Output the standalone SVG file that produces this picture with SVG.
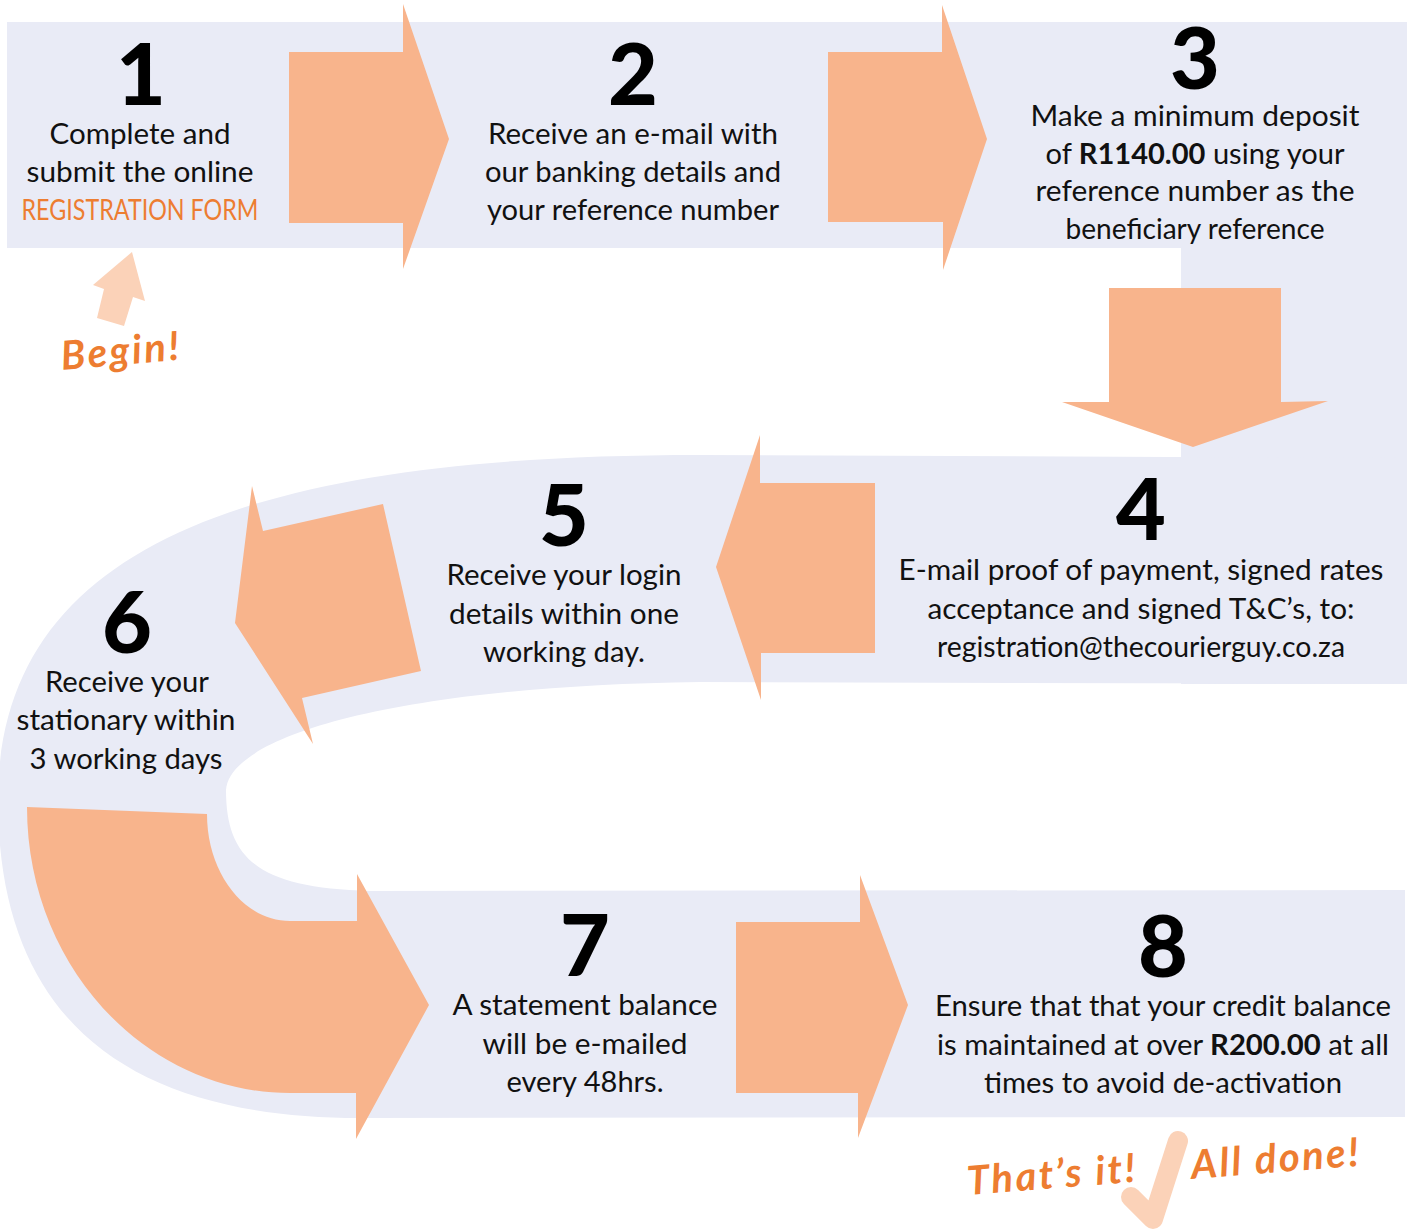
<svg xmlns="http://www.w3.org/2000/svg" width="1412" height="1229" viewBox="0 0 1412 1229">
  <defs>
    <style>
      .band { fill: #E9EBF6; }
      .arrow { fill: #F8B48C; }
      .light { fill: #FBD2B8; }
      .num { font-family: Lato, "Open Sans", "DejaVu Sans", sans-serif; font-weight: 900; font-size: 86px; fill: #000; text-anchor: middle; }
      .txt { font-family: Lato, "Open Sans", "DejaVu Sans", sans-serif; font-size: 29px; fill: #111; text-anchor: middle; }
      .b { font-weight: 700; }
      .orange { fill: #ED7D31; }
      .hand { font-family: Lato, "DejaVu Sans", sans-serif; font-style: italic; font-weight: 700; font-size: 40px; fill: #ED7D31; letter-spacing: 2.5px; }
    </style>
  </defs>
  <rect width="1412" height="1229" fill="#fff"/>

  <g id="band">
    <rect class="band" x="7" y="22" width="1400" height="226"/>
    <rect class="band" x="1181" y="22" width="226" height="662"/>
    <path class="band" d="M1407,458 L700,455 C250,455 -2,545 -2,800 C-2,1030 140,1118 360,1118 L1405,1117 L1405,890 L370,891 C260,888 226,860 226,790 C230,735 400,686 700,682 L1407,684 Z"/>
  </g>

  <g id="connectors">
    <path class="arrow" d="M289,52 L403,52 L403,4 L449,139 L403,269 L403,223 L289,223 Z"/>
    <path class="arrow" d="M828,52 L942,52 L942,5 L987,139 L943,270 L943,222 L828,222 Z"/>
    <path class="arrow" d="M1109,288 L1281,288 L1281,402 L1328,401 L1193,447 L1062,402 L1109,402 Z"/>
    <path class="arrow" d="M875,483 L760,483 L760,435 L716,567 L761,700 L761,653 L875,653 Z"/>
    <path class="arrow" d="M383,504 L421,671 L302,698 L313,744 L235,623 L252,486 L263,531 Z"/>
    <path class="arrow" d="M27,807 L207,814 C207,873 244,921 290,921 L357,921 L357,874 L429,1005 L356,1139 L356,1093 L290,1093 C145,1093 27,965 27,807 Z"/>
    <path class="arrow" d="M736,922 L860,922 L860,875 L908,1005 L858,1138 L858,1093 L736,1093 Z"/>
  </g>

  <g id="node1">
    <text class="num" x="141" y="105">1</text>
    <text class="txt" x="140" y="144" textLength="181" lengthAdjust="spacingAndGlyphs">Complete and</text>
    <text class="txt" x="140" y="182" textLength="227" lengthAdjust="spacingAndGlyphs">submit the online</text>
    <text class="txt orange" x="140" y="220" textLength="237" lengthAdjust="spacingAndGlyphs">REGISTRATION FORM</text>
  </g>
  <g id="node2">
    <text class="num" x="633" y="105">2</text>
    <text class="txt" x="633" y="144" textLength="290" lengthAdjust="spacingAndGlyphs">Receive an e-mail with</text>
    <text class="txt" x="633" y="182" textLength="296" lengthAdjust="spacingAndGlyphs">our banking details and</text>
    <text class="txt" x="633" y="220" textLength="292" lengthAdjust="spacingAndGlyphs">your reference number</text>
  </g>
  <g id="node3">
    <text class="num" x="1195" y="89">3</text>
    <text class="txt" x="1195" y="126" textLength="329" lengthAdjust="spacingAndGlyphs">Make a minimum deposit</text>
    <text class="txt" x="1195" y="164" textLength="299" lengthAdjust="spacingAndGlyphs">of <tspan class="b">R1140.00</tspan> using your</text>
    <text class="txt" x="1195" y="201" textLength="319" lengthAdjust="spacingAndGlyphs">reference number as the</text>
    <text class="txt" x="1195" y="239" textLength="259" lengthAdjust="spacingAndGlyphs">beneficiary reference</text>
  </g>
  <g id="node4">
    <text class="num" x="1141" y="540">4</text>
    <text class="txt" x="1141" y="580" textLength="485" lengthAdjust="spacingAndGlyphs">E-mail proof of payment, signed rates</text>
    <text class="txt" x="1141" y="619" textLength="427" lengthAdjust="spacingAndGlyphs">acceptance and signed T&amp;C’s, to:</text>
    <text class="txt" x="1141" y="657" textLength="408" lengthAdjust="spacingAndGlyphs">registration@thecourierguy.co.za</text>
  </g>
  <g id="node5">
    <text class="num" x="564" y="546">5</text>
    <text class="txt" x="564" y="585" textLength="235" lengthAdjust="spacingAndGlyphs">Receive your login</text>
    <text class="txt" x="564" y="624" textLength="230" lengthAdjust="spacingAndGlyphs">details within one</text>
    <text class="txt" x="564" y="662" textLength="162" lengthAdjust="spacingAndGlyphs">working day.</text>
  </g>
  <g id="node6">
    <text class="num" x="127" y="653">6</text>
    <text class="txt" x="127" y="692" textLength="164" lengthAdjust="spacingAndGlyphs">Receive your</text>
    <text class="txt" x="126" y="730" textLength="219" lengthAdjust="spacingAndGlyphs">stationary within</text>
    <text class="txt" x="126" y="769" textLength="193" lengthAdjust="spacingAndGlyphs">3 working days</text>
  </g>
  <g id="node7">
    <text class="num" x="585" y="976">7</text>
    <text class="txt" x="585" y="1015" textLength="265" lengthAdjust="spacingAndGlyphs">A statement balance</text>
    <text class="txt" x="585" y="1054" textLength="205" lengthAdjust="spacingAndGlyphs">will be e-mailed</text>
    <text class="txt" x="585" y="1092" textLength="157" lengthAdjust="spacingAndGlyphs">every 48hrs.</text>
  </g>
  <g id="node8">
    <text class="num" x="1163" y="977">8</text>
    <text class="txt" x="1163" y="1016" textLength="456" lengthAdjust="spacingAndGlyphs">Ensure that that your credit balance</text>
    <text class="txt" x="1163" y="1055" textLength="452" lengthAdjust="spacingAndGlyphs">is maintained at over <tspan class="b">R200.00</tspan> at all</text>
    <text class="txt" x="1163" y="1093" textLength="358" lengthAdjust="spacingAndGlyphs">times to avoid de-activation</text>
  </g>

  <g id="begin">
    <path class="light" d="M132,252 L145,301 L133,297 L124,326 L97,318 L104,289 L93,285 Z"/>
    <text class="hand" x="62" y="370" transform="rotate(-5 62 370)">Begin!</text>
  </g>

  <g id="finish">
    <polyline points="1131,1197 1153,1219 1178,1141" fill="none" stroke="#FBD2B8" stroke-width="20" stroke-linecap="round" stroke-linejoin="round"/>
    <text class="hand" x="968" y="1195" transform="rotate(-4.5 968 1195)">That’s it!</text>
    <text class="hand" x="1192" y="1179" transform="rotate(-4.5 1192 1179)">All done!</text>
  </g>
</svg>
